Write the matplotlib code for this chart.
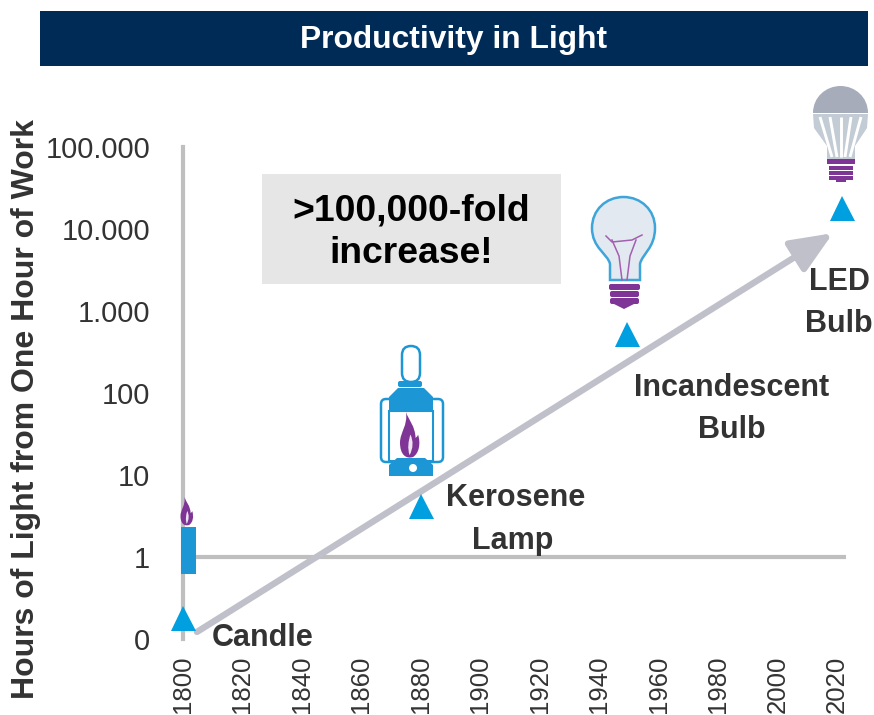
import matplotlib
matplotlib.use('Agg')
import matplotlib.pyplot as plt
from matplotlib.patches import Rectangle, Circle, Polygon, PathPatch, FancyBboxPatch
from matplotlib.path import Path

plt.rcParams['font.family'] = ['Liberation Sans', 'DejaVu Sans']

# data
title = 'Productivity in Light'
years = [1800, 1880, 1949.5, 2021.5]
light_hours = [0.18, 4.2, 530, 18200]
trend_years = [1804.7, 2018.6]
trend_hours = [0.122, 8900]
xticks = list(range(1800, 2021, 20))
yticks = [0.1, 1, 10, 100, 1000, 10000, 100000]
ylabels = ['0', '1', '10', '100', '1.000', '10.000', '100.000']

W, H = 874, 715
BLUE = '#1C96D4'
PURPLE = '#7E3596'
GREY = '#BFC0C9'
AXIS = '#BFBFBF'
DARK = '#333333'
C4 = Path.CURVE4

fig = plt.figure(figsize=(W / 100, H / 100), dpi=100)
ax = fig.add_axes([183 / W, 1 - 639 / H, (846 - 183) / W, (639 - 147) / H])
ax.set_xlim(1800, 2023)
ax.set_yscale('log')
ax.set_ylim(0.1, 100000)
for s in ['top', 'right', 'bottom']:
    ax.spines[s].set_visible(False)
ax.spines['left'].set_color(AXIS)
ax.spines['left'].set_linewidth(3)
ax.set_xticks(xticks)
ax.set_xticklabels(xticks, rotation=90, fontsize=18.5, color=DARK)
ax.set_yticks(yticks)
ax.set_yticklabels(ylabels, fontsize=21, color=DARK)
ax.minorticks_off()
ax.tick_params(axis='x', length=0, pad=12)
ax.tick_params(axis='y', length=0, pad=23.5)
ax.patch.set_alpha(0)
ax.axhline(1, xmax=0.997, color=AXIS, lw=3, zorder=1)
ax.annotate('', xy=(trend_years[1], trend_hours[1]), xytext=(trend_years[0], trend_hours[0]),
            arrowprops=dict(arrowstyle='-|>,head_length=0.85,head_width=0.36', color=GREY, lw=4.6,
                            shrinkA=0, shrinkB=0, mutation_scale=30), zorder=2, annotation_clip=False)
ax.plot(years, light_hours, ls='none', marker='^', ms=18, color='#009FDF', mew=0, clip_on=False, zorder=5)

# overlay in pixels for the header, the box and the icons
ov = fig.add_axes([0, 0, 1, 1])
ov.set_xlim(0, W)
ov.set_ylim(H, 0)
ov.axis('off')
ov.patch.set_alpha(0)

ov.add_patch(Rectangle((40, 11), 828, 55, color='#002B56', lw=0))
ov.text(454, 40, title, color='white', fontsize=22.9, fontweight='bold', ha='center', va='center')
ov.add_patch(Rectangle((262, 174), 299, 110, color='#E6E6E6', lw=0))
ov.text(411, 232, '>100,000-fold\nincrease!', color='black', fontsize=26.8, fontweight='bold',
        ha='center', va='center', linespacing=1.28)
ov.text(26, 409, 'Hours of Light from One Hour of Work', color=DARK, fontsize=23, fontweight='bold',
        rotation=90, ha='center', va='center')

for x, y, txt in [(263, 638, 'Candle'), (516, 498, 'Kerosene'), (513, 541, 'Lamp'),
                  (732, 388, 'Incandescent'), (732, 430, 'Bulb'), (839, 282, 'LED'), (839, 324, 'Bulb')]:
    ov.text(x, y, txt, color=DARK, fontsize=22, fontweight='bold', ha='center', va='center')


def flame(cx, top, w, h):
    def box(pts):
        return [(cx - w / 2 + p[0] * w, top + p[1] * h) for p in pts]
    outer = [(0.3, 0), (0.45, 0.2), (0.75, 0.3), (0.78, 0.58), (0.82, 0.55), (0.88, 0.55), (0.9, 0.5),
             (1.05, 0.7), (0.95, 0.92), (0.65, 1.0), (0.3, 1.05), (0, 0.95), (0, 0.68), (0, 0.45), (0.4, 0.3), (0.3, 0)]
    ov.add_patch(PathPatch(Path(box(outer), [Path.MOVETO] + [C4] * 15), color=PURPLE, lw=0))
    lick = [(0.52, 0.5), (0.68, 0.65), (0.66, 0.8), (0.48, 0.96), (0.36, 0.8), (0.42, 0.65), (0.52, 0.5)]
    ov.add_patch(PathPatch(Path(box(lick), [Path.MOVETO] + [C4] * 6), color='#EDE3F1', lw=0))


# candle
ov.add_patch(Rectangle((181, 527), 15, 47, color=BLUE, lw=0, zorder=3))
flame(187, 497, 13, 28)

# lantern
ov.add_patch(FancyBboxPatch((402, 346), 18, 36, boxstyle='round,pad=0,rounding_size=9', fc='white', ec=BLUE, lw=1.8))
ov.add_patch(FancyBboxPatch((398, 381), 24, 6, boxstyle='round,pad=0,rounding_size=2', color=BLUE, lw=0))
ov.add_patch(FancyBboxPatch((381, 399), 62, 63, boxstyle='round,pad=0,rounding_size=5', fc='none', ec=BLUE, lw=1.8))
ov.add_patch(Polygon([(389, 411), (389, 397), (398, 388), (424, 388), (433, 397), (433, 411)], color=BLUE, lw=0))
ov.add_patch(Rectangle((389, 411), 44, 50, fc='white', ec=BLUE, lw=1.5))
ov.add_patch(Polygon([(389, 476), (389, 465), (397, 458), (425, 458), (433, 465), (433, 476)], color=BLUE, lw=0))
ov.add_patch(Circle((413, 468), 4, color='white', lw=0))
flame(410, 412, 20, 45)

# incandescent bulb
verts = [(610, 280), (610, 264), (608, 254), (592, 248), (592, 228), (592, 210), (606, 197), (623.5, 197),
         (641, 197), (655, 210), (655, 228), (655, 248), (642, 254), (640, 264), (640, 280), (610, 280)]
codes = [Path.MOVETO, Path.LINETO] + [C4] * 12 + [Path.LINETO, Path.CLOSEPOLY]
ov.add_patch(PathPatch(Path(verts, codes), fc='#E3E9F0', ec='#3DA5D9', lw=1.8))
for line in [[(606, 236), (612, 242), (632, 240), (642, 235)], [(612, 240), (619, 256), (622, 280)],
             [(636, 240), (630, 256), (627, 280)]]:
    ov.plot(*zip(*line), color='#A35FB0', lw=1.1)
for y0, x0, w in [(284, 609, 31), (291, 610, 29), (298, 610, 29)]:
    ov.add_patch(FancyBboxPatch((x0, y0), w, 6, boxstyle='round,pad=0,rounding_size=2', color=PURPLE, lw=0))
ov.add_patch(Polygon([(614, 304), (634, 304), (624, 309)], color=PURPLE, lw=0))

# led bulb
body = [(813, 114), (868, 114), (867, 128), (855, 146), (855, 159), (827, 159), (827, 146), (814, 128)]
ov.add_patch(Polygon(body, color='#C3CCD4', lw=0))
for xt, xb in [(820, 832), (830, 837), (841, 841), (851, 845), (861, 850)]:
    ov.plot([xt, xb], [117, 157], color='white', lw=2.1, solid_capstyle='butt')
dome = [(813, 113), (813, 97), (826, 86), (840.5, 86), (855, 86), (868, 97), (868, 113), (813, 113)]
dcodes = [Path.MOVETO] + [C4] * 6 + [Path.CLOSEPOLY]
ov.add_patch(PathPatch(Path(dome, dcodes), color='#A6ACB9', lw=0))
for y0, x0, w, h in [(159, 827, 28, 5), (166, 829, 24, 3.5), (171, 829, 24, 3.5), (176, 829, 24, 3.5), (179.5, 836, 10, 2.5)]:
    ov.add_patch(Rectangle((x0, y0), w, h, color=PURPLE, lw=0))

fig.savefig('out.png', dpi=100)
